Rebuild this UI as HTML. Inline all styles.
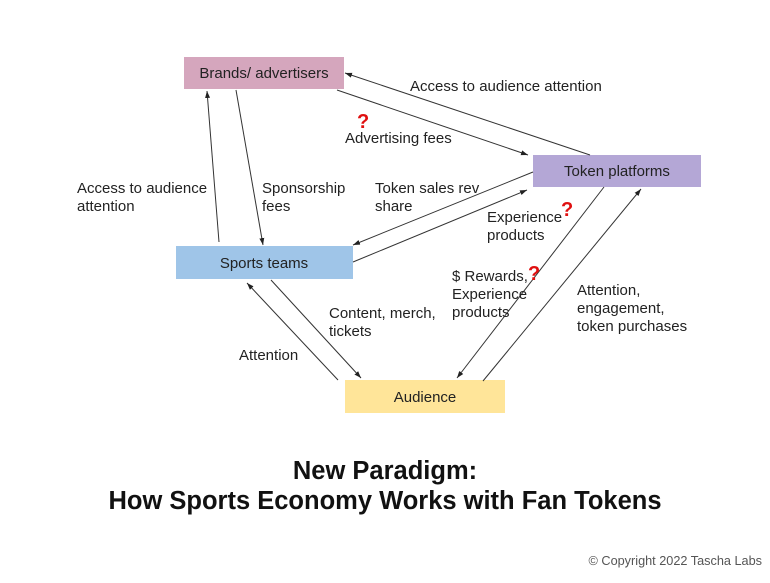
<!DOCTYPE html>
<html><head><meta charset="utf-8"><style>
body{margin:0;width:770px;height:578px;background:#fff;overflow:hidden;font-family:"Liberation Sans",Arial,sans-serif}
</style></head><body>
<svg width="770" height="578" xmlns="http://www.w3.org/2000/svg" font-family="Liberation Sans, Arial, sans-serif">
<defs><marker id="a" markerWidth="8" markerHeight="8" refX="7" refY="4" orient="auto" markerUnits="userSpaceOnUse"><path d="M0,1.5 L7,4 L0,6.5z" fill="#222"/></marker></defs>
<rect x="184" y="57" width="160" height="32" fill="#d5a6bd"/>
<rect x="533" y="155" width="168" height="32" fill="#b4a7d6"/>
<rect x="176" y="246" width="177" height="33" fill="#9fc5e8"/>
<rect x="345" y="380" width="160" height="33" fill="#ffe599"/>
<g font-size="15" fill="#222" text-anchor="middle">
<text x="264" y="78">Brands/ advertisers</text>
<text x="617" y="176">Token platforms</text>
<text x="264" y="268">Sports teams</text>
<text x="425" y="402">Audience</text>
</g>
<g stroke="#333" stroke-width="1" marker-end="url(#a)">
<line x1="590" y1="155" x2="345" y2="73"/>
<line x1="337" y1="90" x2="528" y2="155"/>
<line x1="219" y1="242" x2="207" y2="91"/>
<line x1="236" y1="90" x2="263" y2="245"/>
<line x1="533" y1="172" x2="353" y2="245"/>
<line x1="353" y1="262" x2="527" y2="190"/>
<line x1="604" y1="187" x2="457" y2="378"/>
<line x1="483" y1="381" x2="641" y2="189"/>
<line x1="271" y1="280" x2="361" y2="378"/>
<line x1="338" y1="380" x2="247" y2="283"/>
</g>
<g font-size="15" fill="#222">
<text x="410" y="91">Access to audience attention</text>
<text x="345" y="143">Advertising fees</text>
<text x="77" y="193">Access to audience</text>
<text x="77" y="211">attention</text>
<text x="262" y="193">Sponsorship</text>
<text x="262" y="211">fees</text>
<text x="375" y="193">Token sales rev</text>
<text x="375" y="211">share</text>
<text x="487" y="222">Experience</text>
<text x="487" y="240">products</text>
<text x="452" y="281">$ Rewards,</text>
<text x="452" y="299">Experience</text>
<text x="452" y="317">products</text>
<text x="577" y="295">Attention,</text>
<text x="577" y="313">engagement,</text>
<text x="577" y="331">token purchases</text>
<text x="329" y="318">Content, merch,</text>
<text x="329" y="336">tickets</text>
<text x="239" y="360">Attention</text>
</g>
<g font-size="20" font-weight="bold" fill="#e01010">
<text x="357" y="128">?</text>
<text x="561" y="216">?</text>
<text x="528" y="280">?</text>
</g>
<g font-size="25.5" font-weight="bold" fill="#111" text-anchor="middle">
<text x="385" y="479">New Paradigm:</text>
<text x="385" y="509">How Sports Economy Works with Fan Tokens</text>
</g>
<text x="762" y="565" font-size="12.7" fill="#555" text-anchor="end">© Copyright 2022 Tascha Labs</text>
</svg>
</body></html>
